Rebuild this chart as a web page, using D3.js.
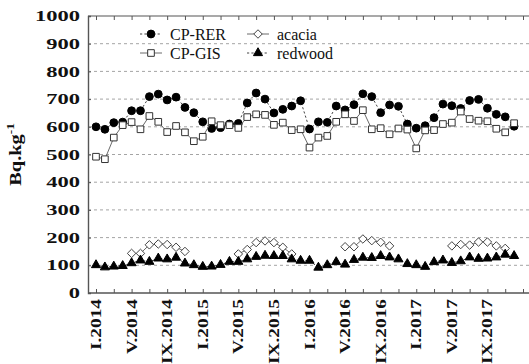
<!DOCTYPE html>
<html><head><meta charset="utf-8">
<script src="https://cdn.jsdelivr.net/npm/d3@7"></script>
<style>body{margin:0;background:#fff}svg{display:block}</style>
</head><body><svg id="chart" width="529" height="364"></svg>
<script>
// Monthly activity, January 2014 to December 2017 (index 0 = I.2014)
const months = d3.range(48);
const cpRER = [600,591,615,617,658,658,709,718,697,707,670,651,618,594,597,610,612,686,722,700,650,663,675,694,592,618,616,675,661,680,719,709,651,679,674,610,595,604,633,682,676,666,695,699,667,645,636,602];
const cpGIS = [492,483,561,606,617,591,639,618,581,603,580,548,564,620,606,606,596,635,645,643,607,615,588,591,525,561,567,618,645,621,660,591,595,573,594,590,522,587,588,610,615,655,628,622,620,593,580,613];
const acacia = [null,null,null,null,143,143,174,177,175,165,150,null,null,null,null,null,141,157,182,188,182,165,141,null,null,null,null,null,167,167,195,189,183,170,null,null,null,null,null,null,170,175,173,184,184,170,161,null];
const redwood = [101,93,96,98,108,118,113,125,122,128,107,101,95,96,102,113,113,122,131,135,134,134,122,117,117,92,101,112,103,120,128,127,134,129,122,105,101,95,112,118,109,115,129,124,125,129,139,134];
const tickMonths = d3.range(0, 45, 4);
const tickLabels = ["I.2014","V.2014","IX.2014","I.2015","V.2015","IX.2015","I.2016","V.2016","IX.2016","I.2017","V.2017","IX.2017"];
const yTicks = d3.range(0, 1001, 100);
const seriesNames = ["CP-RER","CP-GIS","acacia","redwood"];

const svg = d3.select("#chart");
const plotL = 88, plotR = 529, plotT = 16, plotB = 293;
const x = d3.scaleLinear().domain([0, 48]).range([96, 523]);
const y = d3.scaleLinear().domain([0, 1000]).range([plotB, plotT]);

const serif = "'Liberation Serif', 'Times New Roman', serif";

// horizontal dashed grid
svg.append("g").selectAll("line")
  .data(yTicks.filter(v => v > 0 && v < 1000))
  .join("line")
  .attr("x1", plotL).attr("x2", plotR)
  .attr("y1", d => y(d)).attr("y2", d => y(d))
  .attr("stroke", "#9a9a9a").attr("stroke-width", 0.9)
  .attr("stroke-dasharray", "3,3");

// y axis (labels drawn separately with a widened bold face)
const yAxis = svg.append("g").attr("transform", `translate(${plotL},0)`)
  .call(d3.axisLeft(y).tickValues(yTicks).tickSize(-3).tickFormat(""));
yAxis.select(".domain").attr("stroke", "#555").attr("stroke-width", 1.4);
yAxis.selectAll(".tick line").attr("stroke", "#555");

svg.append("g").selectAll("text")
  .data(yTicks)
  .join("text")
  .attr("transform", d => `translate(80,${y(d)}) scale(1.5,1)`)
  .attr("dy", "0.34em")
  .attr("text-anchor", "end")
  .attr("font-family", serif).attr("font-weight", "bold").attr("font-size", 15)
  .attr("fill", "#111")
  .text(d3.format("d"));

// x axis bottom
const xAxis = svg.append("g").attr("transform", `translate(0,${plotB})`)
  .call(d3.axisBottom(x).tickValues(d3.range(0, 49, 2)).tickSize(-4).tickFormat(""));
xAxis.select(".domain").remove();
xAxis.selectAll(".tick line").attr("stroke", "#555");
svg.append("line").attr("x1", plotL).attr("x2", plotR).attr("y1", plotB).attr("y2", plotB)
  .attr("stroke", "#555").attr("stroke-width", 1.4);

// x axis top
const xTop = svg.append("g").attr("transform", `translate(0,${plotT})`)
  .call(d3.axisTop(x).tickValues(d3.range(0, 49, 2)).tickSize(-4).tickFormat(""));
xTop.select(".domain").remove();
xTop.selectAll(".tick line").attr("stroke", "#555");
svg.append("line").attr("x1", plotL).attr("x2", plotR).attr("y1", plotT).attr("y2", plotT)
  .attr("stroke", "#555").attr("stroke-width", 1.2);

// rotated month labels
svg.append("g").selectAll("text")
  .data(tickMonths)
  .join("text")
  .attr("transform", d => `translate(${x(d) + 5},${plotB + 6}) rotate(-90) scale(1.25,1)`)
  .attr("text-anchor", "end")
  .attr("font-family", serif).attr("font-weight", "bold").attr("font-size", 15.5)
  .attr("fill", "#111")
  .text((d, i) => tickLabels[i]);

// y axis title
const yTitle = svg.append("text")
  .attr("transform", `translate(21,${(plotT + plotB) / 2}) rotate(-90) scale(1.2,1)`)
  .attr("text-anchor", "middle")
  .attr("font-family", serif).attr("font-weight", "bold").attr("font-size", 17)
  .attr("fill", "#111");
yTitle.append("tspan").text("Bq.kg");
yTitle.append("tspan").attr("font-size", 11).attr("dy", -7).text("-1");

// marker shapes
const sym = {
  circle: d3.symbol().type(d3.symbolCircle).size(48),
  square: d3.symbol().type(d3.symbolSquare).size(44),
  diamond: d3.symbol().type(d3.symbolDiamond2).size(46),
  triangle: d3.symbol().type(d3.symbolTriangle).size(36)
};

const styles = [
  {name: seriesNames[0], data: cpRER, dash: "2.2,2.2", lineColor: "#444", shape: "circle", fill: "#000", stroke: "#000"},
  {name: seriesNames[1], data: cpGIS, dash: null, lineColor: "#6a6a6a", shape: "square", fill: "#fff", stroke: "#333"},
  {name: seriesNames[2], data: acacia, dash: null, lineColor: "#6a6a6a", shape: "diamond", fill: "#fff", stroke: "#444"},
  {name: seriesNames[3], data: redwood, dash: "2.2,2.2", lineColor: "#444", shape: "triangle", fill: "#000", stroke: "#000"}
];

const line = d3.line().defined(d => d[1] != null).x(d => x(d[0])).y(d => y(d[1]));

styles.forEach(s => {
  const pts = months.map(m => [m, s.data[m]]);
  svg.append("path").datum(pts)
    .attr("d", line).attr("fill", "none")
    .attr("stroke", s.lineColor).attr("stroke-width", 1)
    .attr("stroke-dasharray", s.dash);
  svg.append("g").selectAll("path")
    .data(pts.filter(d => d[1] != null))
    .join("path")
    .attr("transform", d => `translate(${x(d[0])},${y(d[1])})`)
    .attr("d", sym[s.shape]())
    .attr("fill", s.fill).attr("stroke", s.stroke).attr("stroke-width", 1);
});

// legend
const legendPos = [[151, 34], [151, 53], [258, 34], [258, 53]];
styles.forEach((s, i) => {
  const [cx, cy] = legendPos[i];
  const g = svg.append("g").attr("transform", `translate(${cx},${cy})`);
  g.append("line").attr("x1", -11).attr("x2", 11).attr("y1", 0).attr("y2", 0)
    .attr("stroke", s.lineColor).attr("stroke-width", 1).attr("stroke-dasharray", s.dash);
  g.append("path").attr("d", sym[s.shape]()).attr("fill", s.fill)
    .attr("stroke", s.stroke).attr("stroke-width", 1);
  g.append("text").attr("x", 19).attr("y", 5.5)
    .attr("font-family", serif).attr("font-size", 16).attr("fill", "#111")
    .text(s.name);
});
</script>
</body></html>
